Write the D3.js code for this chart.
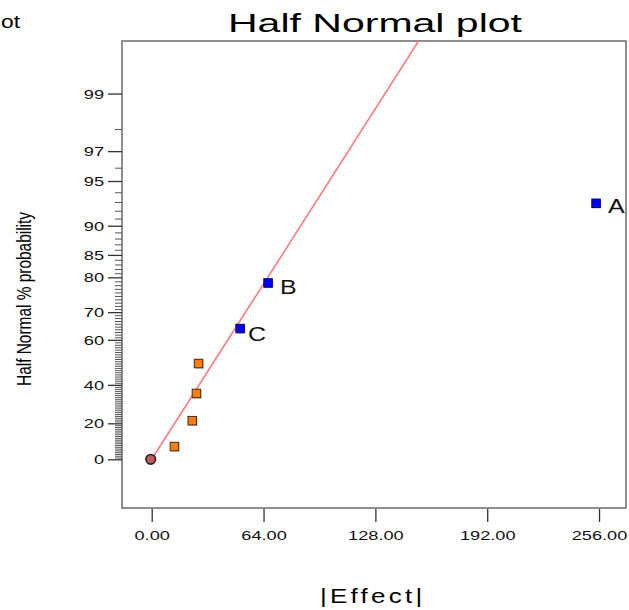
<!DOCTYPE html>
<html>
<head>
<meta charset="utf-8">
<script src="https://cdn.jsdelivr.net/npm/d3@7"></script>
<style>
  html, body { margin: 0; padding: 0; background: #fff; }
  svg { display: block; font-family: "Liberation Sans", Arial, sans-serif; }
</style>
</head>
<body>
<svg id="chart" width="629" height="610"></svg>
<script>
// ---------- data ----------
const effects       = [13.0, 23.2, 25.6, 26.8, 50.6, 66.6, 254.3];
const probabilities = [7.14, 21.43, 35.71, 50.0, 64.29, 78.57, 92.86];
const labels        = ["", "", "", "", "C", "B", "A"];
const selected      = [false, false, false, false, true, true, true];
const originEffect  = [0];
const originProb    = [0];
const fitLineEffect = [0, 152.7];
const fitLineProb   = [0, 99.678];
const xTickValues   = [0, 64, 128, 192, 256];
const yTickLabels   = [0, 20, 40, 60, 70, 80, 85, 90, 95, 97, 99];

// ---------- helpers ----------
// inverse standard normal CDF (Acklam)
function probit(p) {
  const a = [-3.969683028665376e+01, 2.209460984245205e+02, -2.759285104469687e+02, 1.383577518672690e+02, -3.066479806614716e+01, 2.506628277459239e+00];
  const b = [-5.447609879822406e+01, 1.615858368580409e+02, -1.556989798598866e+02, 6.680131188771972e+01, -1.328068155288572e+01];
  const c = [-7.784894002430293e-03, -3.223964580411365e-01, -2.400758277161838e+00, -2.549732539343734e+00, 4.374664141464968e+00, 2.938163982698783e+00];
  const d = [7.784695709041462e-03, 3.224671290700398e-01, 2.445134137142996e+00, 3.754408661907416e+00];
  const pl = 0.02425, ph = 1 - pl;
  let q, r;
  if (p < pl) { q = Math.sqrt(-2 * Math.log(p)); return (((((c[0]*q+c[1])*q+c[2])*q+c[3])*q+c[4])*q+c[5]) / ((((d[0]*q+d[1])*q+d[2])*q+d[3])*q+1); }
  if (p <= ph) { q = p - 0.5; r = q*q; return (((((a[0]*r+a[1])*r+a[2])*r+a[3])*r+a[4])*r+a[5])*q / (((((b[0]*r+b[1])*r+b[2])*r+b[3])*r+b[4])*r+1); }
  q = Math.sqrt(-2 * Math.log(1 - p)); return -(((((c[0]*q+c[1])*q+c[2])*q+c[3])*q+c[4])*q+c[5]) / ((((d[0]*q+d[1])*q+d[2])*q+d[3])*q+1);
}
const halfZ = pct => probit(0.5 + pct / 200);

// ---------- layout ----------
const frame = { left: 122, top: 41, right: 626, bottom: 508 };
const svg = d3.select("#chart");

const x = d3.scaleLinear().domain([-17, 272]).range([frame.left, frame.right + 1]);
const yz = d3.scaleLinear().domain([-0.343, 2.946]).range([frame.bottom, frame.top]);
const y = pct => yz(halfZ(pct));

const FS = 1.4; // horizontal stretch of the reference text

// top-left fragment
svg.append("text").attr("x", 1).attr("y", 28).attr("font-size", 18)
  .attr("textLength", 19).attr("lengthAdjust", "spacingAndGlyphs").text("ot");

// title
svg.append("text").attr("x", 228).attr("y", 32).attr("font-size", 25)
  .attr("textLength", 294).attr("lengthAdjust", "spacingAndGlyphs").text("Half Normal plot");

// clip
svg.append("defs").append("clipPath").attr("id", "clip")
  .append("rect").attr("x", frame.left).attr("y", frame.top)
  .attr("width", frame.right - frame.left).attr("height", frame.bottom - frame.top);

// frame
svg.append("rect").attr("x", frame.left).attr("y", frame.top)
  .attr("width", frame.right - frame.left).attr("height", frame.bottom - frame.top)
  .attr("fill", "none").attr("stroke", "#6a6a6a").attr("stroke-width", 1.5);

// minor y ticks
const minor = d3.range(1, 99).filter(v => !yTickLabels.includes(v));
svg.append("g").attr("transform", `translate(${frame.left},0)`)
  .call(d3.axisLeft(yz).tickValues(minor.map(halfZ)).tickSize(7).tickFormat(""))
  .call(g => g.select(".domain").remove())
  .call(g => g.selectAll("line").attr("stroke", "#555").attr("stroke-width", 1));

// major y ticks
svg.append("g").attr("transform", `translate(${frame.left},0)`)
  .call(d3.axisLeft(yz).tickValues(yTickLabels.map(halfZ)).tickSize(14)
        .tickFormat((d, i) => String(yTickLabels[i])))
  .call(g => g.select(".domain").remove())
  .call(g => g.selectAll("line").attr("stroke", "#333").attr("stroke-width", 1.3))
  .call(g => g.selectAll("text")
        .attr("x", -18 / FS).attr("dy", "0.35em")
        .attr("transform", `scale(${FS},1)`)
        .attr("font-size", 13).attr("font-family", "Liberation Sans, Arial, sans-serif")
        .attr("fill", "#111"));

// x axis
svg.append("g").attr("transform", `translate(0,${frame.bottom + 1})`)
  .call(d3.axisBottom(x).tickValues(xTickValues).tickSize(13).tickFormat(d3.format(".2f")))
  .call(g => g.select(".domain").remove())
  .call(g => g.selectAll("line").attr("stroke", "#333").attr("stroke-width", 1.3))
  .call(g => g.selectAll("text")
        .attr("y", 22).attr("dy", "0.71em")
        .attr("transform", `scale(${FS},1)`)
        .attr("font-size", 13).attr("font-family", "Liberation Sans, Arial, sans-serif")
        .attr("fill", "#111"));

// axis titles
svg.append("text").attr("transform", "translate(320,603) scale(1.3,1)")
  .attr("font-size", 20).attr("letter-spacing", 2.5).text("|Effect|");

svg.append("text").attr("transform", "translate(31,299) rotate(-90)")
  .attr("text-anchor", "middle").attr("font-size", 21)
  .attr("textLength", 174).attr("lengthAdjust", "spacingAndGlyphs")
  .text("Half Normal % probability");

// fit line
const fitData = fitLineEffect.map((e, i) => ({ e, p: fitLineProb[i] }));
svg.append("path").datum(fitData).attr("clip-path", "url(#clip)")
  .attr("d", d3.line().x(d => x(d.e)).y(d => y(d.p)))
  .attr("fill", "none").attr("stroke", "#ff7b7b").attr("stroke-width", 1.6);

// points
const pts = effects.map((e, i) => ({ e, p: probabilities[i], label: labels[i], sel: selected[i] }));
const S = 8.5;
svg.append("g").selectAll("rect").data(pts).join("rect")
  .attr("x", d => x(d.e) - S / 2 + 1).attr("y", d => y(d.p) - S / 2 + 1)
  .attr("width", S).attr("height", S).attr("fill", "#d4d4d4");
svg.append("g").selectAll("rect").data(pts).join("rect")
  .attr("x", d => x(d.e) - S / 2).attr("y", d => y(d.p) - S / 2)
  .attr("width", S).attr("height", S)
  .attr("fill", d => d.sel ? "#0000ff" : "#ff8000")
  .attr("stroke", d => d.sel ? "#000060" : "#3a2a1a").attr("stroke-width", 1);

// origin circle
svg.append("g").selectAll("circle").data(originEffect.map((e, i) => ({ e, p: originProb[i] }))).join("circle")
  .attr("cx", d => x(d.e) - 1).attr("cy", d => y(d.p))
  .attr("r", 4.8).attr("fill", "#c05a5a").attr("stroke", "#222").attr("stroke-width", 1.6);

// point labels
const labelOffset = { A: [12, 10], B: [12, 11], C: [8, 12] };
svg.append("g").selectAll("text").data(pts.filter(d => d.label)).join("text")
  .attr("transform", d => `translate(${x(d.e) + labelOffset[d.label][0]},${y(d.p) + labelOffset[d.label][1]}) scale(1.25,1)`)
  .attr("font-size", 20).attr("fill", "#111").text(d => d.label);
</script>
</body>
</html>
